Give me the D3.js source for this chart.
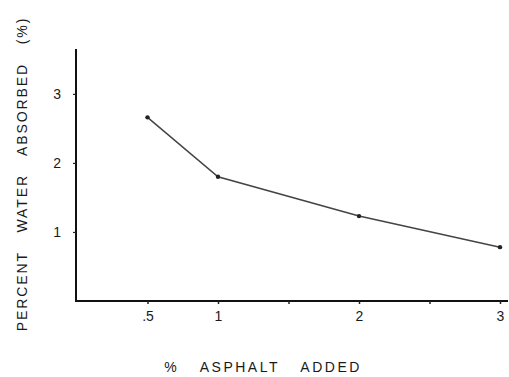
<!DOCTYPE html>
<html>
<head>
<meta charset="utf-8">
<script src="https://cdn.jsdelivr.net/npm/d3@7"></script>
<style>
  html, body { margin: 0; padding: 0; background: #fff; }
  svg { display: block; }
  text { font-family: "Liberation Sans", Arial, sans-serif; fill: #1a1a1a; }
</style>
</head>
<body>
<svg id="chart" width="509" height="377"></svg>
<script>
// Asphalt added (%) vs. water absorbed (%)
const asphaltAdded = [0.5, 1, 2, 3];
const waterAbsorbed = [2.66, 1.80, 1.23, 0.78];
const xTickValues = [0.5, 1, 2, 3];
const xTickLabels = [".5", "1", "2", "3"];
const xMinorTicks = [1.5, 2.5];
const yTickValues = [1, 2, 3];

const svg = d3.select("#chart");

const x = d3.scaleLinear().domain([0, 3]).range([77, 500]);
const y = d3.scaleLinear().domain([0, 3.65]).range([301, 49]);

// axes lines
svg.append("line")
  .attr("x1", 76).attr("x2", 76)
  .attr("y1", y(3.65)).attr("y2", y(0) + 1)
  .attr("stroke", "#111").attr("stroke-width", 2);
svg.append("line")
  .attr("x1", 75).attr("x2", 508)
  .attr("y1", y(0)).attr("y2", y(0))
  .attr("stroke", "#111").attr("stroke-width", 2);

// x axis ticks and labels
const xAxis = d3.axisBottom(x)
  .tickValues(xTickValues.concat(xMinorTicks))
  .tickSize(3)
  .tickPadding(7)
  .tickFormat(d => {
    const i = xTickValues.indexOf(d);
    return i >= 0 ? xTickLabels[i] : "";
  });
const gx = svg.append("g").attr("transform", `translate(0,${y(0)})`).call(xAxis);
gx.select(".domain").remove();
gx.selectAll(".tick line").attr("stroke", "#222").attr("stroke-width", 1.5);
gx.selectAll(".tick text")
  .style("font-family", "'Liberation Sans', Arial, sans-serif")
  .style("font-size", "14px").attr("fill", "#1a1a1a");

// y axis ticks and labels
const yAxis = d3.axisLeft(y)
  .tickValues(yTickValues)
  .tickSize(3)
  .tickPadding(12)
  .tickFormat(d3.format("d"));
const gy = svg.append("g").attr("transform", "translate(76,0)").call(yAxis);
gy.select(".domain").remove();
gy.selectAll(".tick line").attr("stroke", "#222").attr("stroke-width", 1.2);
gy.selectAll(".tick text")
  .style("font-family", "'Liberation Sans', Arial, sans-serif")
  .style("font-size", "14px").attr("fill", "#1a1a1a");

// data line
const pts = asphaltAdded.map((a, i) => [a, waterAbsorbed[i]]);
svg.append("path")
  .datum(pts)
  .attr("fill", "none")
  .attr("stroke", "#444")
  .attr("stroke-width", 1.5)
  .attr("d", d3.line().x(d => x(d[0])).y(d => y(d[1])));

svg.selectAll("circle.pt")
  .data(pts)
  .enter().append("circle")
  .attr("class", "pt")
  .attr("cx", d => x(d[0]))
  .attr("cy", d => y(d[1]))
  .attr("r", 2.2)
  .attr("fill", "#222");

// axis titles
svg.append("text")
  .attr("x", 263).attr("y", 372)
  .attr("text-anchor", "middle")
  .style("font-size", "14px")
  .style("letter-spacing", "2.5px")
  .style("word-spacing", "15px")
  .text("% ASPHALT ADDED");

svg.append("text")
  .attr("transform", "translate(27,174) rotate(-90)")
  .attr("text-anchor", "middle")
  .style("font-size", "14px")
  .style("letter-spacing", "1.9px")
  .style("word-spacing", "13px")
  .text("PERCENT WATER ABSORBED (%)");
</script>
</body>
</html>
